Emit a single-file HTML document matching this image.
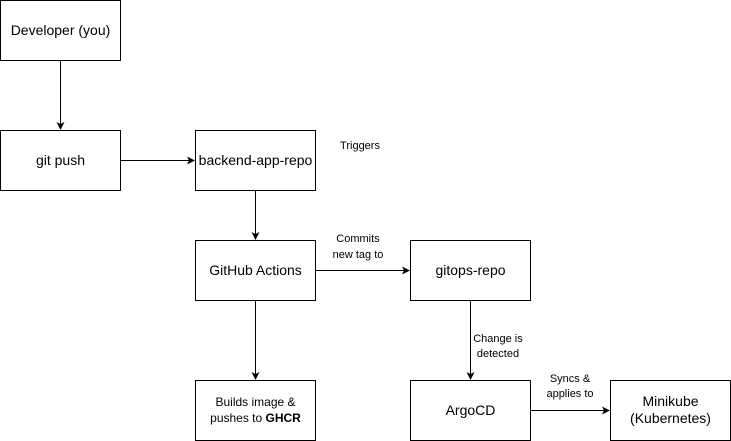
<!DOCTYPE html>
<html><head><meta charset="utf-8"><style>
html,body{margin:0;padding:0;background:#fff;}
svg{display:block;font-family:"Liberation Sans",Arial,sans-serif;}
</style></head><body>
<svg width="731" height="441" viewBox="0 0 731 441" xmlns="http://www.w3.org/2000/svg">
<defs><marker id="a" markerWidth="8" markerHeight="8" refX="7" refY="4" orient="auto" markerUnits="userSpaceOnUse"><path d="M0,0 L8,4 L0,8 L2,4 Z" fill="#000"/></marker></defs>
<g fill="#fff" stroke="#000" stroke-width="1">
<rect x="0.5" y="0.5" width="120" height="60"/>
<rect x="0.5" y="130.5" width="120" height="60"/>
<rect x="195.5" y="130.5" width="120" height="60"/>
<rect x="195.5" y="240.5" width="120" height="60"/>
<rect x="410.5" y="240.5" width="120" height="60"/>
<rect x="195.5" y="380.5" width="120" height="60"/>
<rect x="410.5" y="380.5" width="120" height="60"/>
<rect x="610.5" y="380.5" width="120" height="60"/>
</g>
<g stroke="#000" stroke-width="1" fill="none">
<line x1="60.5" y1="61" x2="60.5" y2="129" marker-end="url(#a)"/>
<line x1="121" y1="160.5" x2="194" y2="160.5" marker-end="url(#a)"/>
<line x1="255.5" y1="191" x2="255.5" y2="239" marker-end="url(#a)"/>
<line x1="316" y1="270.5" x2="409" y2="270.5" marker-end="url(#a)"/>
<line x1="255.5" y1="301" x2="255.5" y2="379" marker-end="url(#a)"/>
<line x1="470.5" y1="301" x2="470.5" y2="379" marker-end="url(#a)"/>
<line x1="531" y1="410.5" x2="609" y2="410.5" marker-end="url(#a)"/>
</g>
<rect x="472" y="330" width="54" height="30" fill="#fff"/>
<g font-size="14" text-anchor="middle" fill="#000">
<text x="60.5" y="35">Developer (you)</text>
<text x="60.5" y="165">git push</text>
<text x="255.5" y="165">backend-app-repo</text>
<text x="255.5" y="275">GitHub Actions</text>
<text x="470.5" y="275">gitops-repo</text>
<text x="470.5" y="415">ArgoCD</text>
<text x="670.5" y="406">Minikube</text>
<text x="670.5" y="423">(Kubernetes)</text>
</g>
<g font-size="12" text-anchor="middle" fill="#000">
<text x="255.5" y="406">Builds image &amp;</text>
<text x="255.5" y="422">pushes to <tspan font-weight="bold">GHCR</tspan></text>
</g>
<g font-size="11" text-anchor="middle" fill="#000">
<text x="360" y="149">Triggers</text>
<text x="358" y="242">Commits</text>
<text x="358" y="258">new tag to</text>
<text x="498" y="342">Change is</text>
<text x="498" y="357">detected</text>
<text x="570" y="382">Syncs &amp;</text>
<text x="570" y="397">applies to</text>
</g>
</svg>
</body></html>
